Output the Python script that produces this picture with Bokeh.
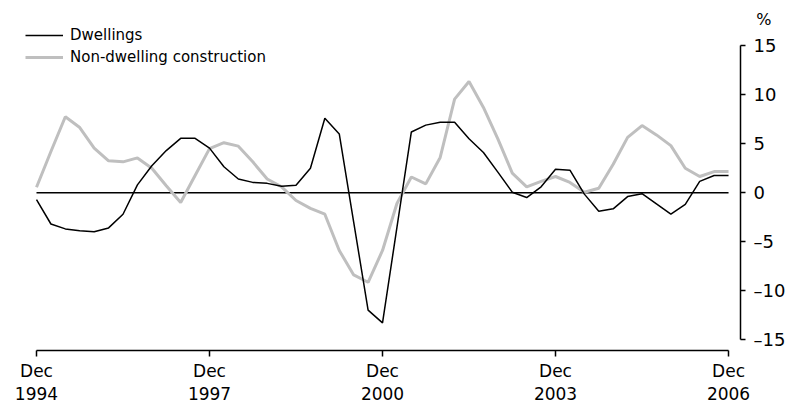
from bokeh.plotting import figure
from bokeh.models import Range1d, FixedTicker, LinearAxis, Title
from bokeh.embed import file_html
from bokeh.resources import INLINE

# Quarterly, Dec 1994 .. Dec 2006 (49 quarters)
quarters = list(range(49))
dwellings = [-0.7, -3.2, -3.7, -3.9, -4.0, -3.6, -2.2, 0.8, 2.75, 4.3,
             5.55, 5.55, 4.55, 2.65, 1.4, 1.05, 0.95, 0.65, 0.75, 2.5,
             7.6, 6.0, -3.0, -12.0, -13.3, -3.55, 6.2, 6.9, 7.2, 7.2,
             5.5, 4.1, 2.1, 0.05, -0.5, 0.6, 2.4, 2.3, -0.15, -1.9,
             -1.65, -0.4, -0.1, -1.15, -2.2, -1.2, 1.15, 1.75, 1.75]
non_dwelling = [0.55, 4.2, 7.75, 6.65, 4.55, 3.25, 3.15, 3.55, 2.5, 0.7,
                -1.0, 1.75, 4.5, 5.1, 4.75, 3.15, 1.4, 0.6, -0.8, -1.6,
                -2.2, -5.9, -8.4, -9.15, -5.9, -1.1, 1.6, 0.9, 3.6, 9.55,
                11.35, 8.7, 5.5, 2.0, 0.6, 1.15, 1.65, 1.05, 0.05, 0.45,
                2.9, 5.65, 6.85, 5.9, 4.8, 2.5, 1.65, 2.15, 2.15]
x_ticks = [0, 12, 24, 36, 48]
x_tick_labels = ["Dec\n1994", "Dec\n1997", "Dec\n2000", "Dec\n2003", "Dec\n2006"]
y_ticks = [-15, -10, -5, 0, 5, 10, 15]
y_tick_labels = ["\u201315", "\u201310", "\u20135", "0", "5", "10", "15"]
unit_label = "%"

FONT = "DejaVu Sans"

p = figure(width=786, height=404, frame_width=720, frame_height=328,
           output_backend="svg", toolbar_location=None,
           x_axis_location=None, y_axis_location=None,
           min_border_left=20, min_border_right=46,
           min_border_top=22, min_border_bottom=54)
p.x_range = Range1d(quarters[0] - 1.11, quarters[-1] + 0.83)
p.y_range = Range1d(y_ticks[0] - 1.12, y_ticks[-1] + 2.38)
p.outline_line_color = None
p.xgrid.visible = False
p.ygrid.visible = False
p.background_fill_color = "white"
p.border_fill_color = "white"

# zero line
p.line(x=[quarters[0], quarters[-1]], y=[0, 0], line_color="black", line_width=1.5)

p.line(quarters, non_dwelling, line_color="#BFBFBF", line_width=3,
       legend_label="Non-dwelling construction")
p.line(quarters, dwellings, line_color="black", line_width=1.5,
       legend_label="Dwellings")

xaxis = LinearAxis(ticker=FixedTicker(ticks=x_ticks),
                   major_label_overrides={t: l for t, l in zip(x_ticks, x_tick_labels)},
                   bounds=(x_ticks[0], x_ticks[-1]))
xaxis.major_tick_in = 0
xaxis.major_tick_out = 6
xaxis.minor_tick_line_color = None
xaxis.axis_line_width = 1.5
xaxis.major_tick_line_width = 1.5
xaxis.major_label_text_font = FONT
xaxis.major_label_text_font_size = "17px"
xaxis.major_label_text_line_height = 1.15
xaxis.major_label_text_color = "black"
xaxis.major_label_standoff = 4
p.add_layout(xaxis, "below")

yaxis = LinearAxis(ticker=FixedTicker(ticks=y_ticks),
                   major_label_overrides={t: l for t, l in zip(y_ticks, y_tick_labels)},
                   bounds=(y_ticks[0], y_ticks[-1]))
yaxis.major_tick_in = 0
yaxis.major_tick_out = 5
yaxis.minor_tick_line_color = None
yaxis.axis_line_width = 1.5
yaxis.major_tick_line_width = 1.5
yaxis.major_label_text_font = FONT
yaxis.major_label_text_font_size = "18px"
yaxis.major_label_text_color = "black"
yaxis.major_label_standoff = 8
p.add_layout(yaxis, "right")

p.add_layout(Title(text=unit_label, align="right", offset=-31, standoff=-13,
                   text_font=FONT, text_font_size="16px",
                   text_font_style="normal", text_color="black"), "above")

lg = p.legend[0]
items = list(lg.items)
lg.items = items[::-1]
lg.location = (5, 282)
lg.padding = 0
lg.margin = 0
lg.spacing = 0
lg.glyph_width = 38
lg.glyph_height = 22
lg.label_height = 22
lg.label_standoff = 7
lg.label_text_font = FONT
lg.label_text_font_size = "15px"
lg.label_text_color = "black"
lg.border_line_color = None
lg.background_fill_alpha = 0

open("out.html", "w").write(file_html(p, INLINE))
